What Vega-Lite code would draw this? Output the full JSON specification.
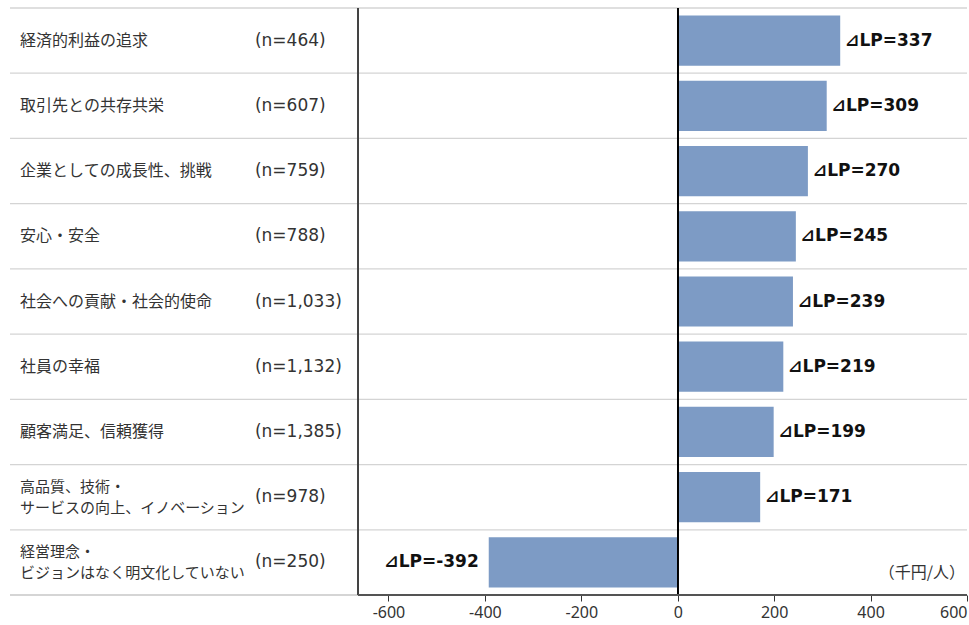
{
  "$schema": "https://vega.github.io/schema/vega-lite/v6.json",
  "width": 957,
  "height": 587,
  "autosize": {"type": "none"},
  "padding": {"left": 10, "top": 8, "right": 2, "bottom": 30},
  "background": "white",
  "config": {"view": {"stroke": null}, "font": "Noto Sans CJK JP"},
  "data": {
    "values": [
      {"cat": "経済的利益の追求", "n": "(n=464)", "v": 337},
      {"cat": "取引先との共存共栄", "n": "(n=607)", "v": 309},
      {"cat": "企業としての成長性、挑戦", "n": "(n=759)", "v": 270},
      {"cat": "安心・安全", "n": "(n=788)", "v": 245},
      {"cat": "社会への貢献・社会的使命", "n": "(n=1,033)", "v": 239},
      {"cat": "社員の幸福", "n": "(n=1,132)", "v": 219},
      {"cat": "顧客満足、信頼獲得", "n": "(n=1,385)", "v": 199},
      {"cat": "高品質、技術・\nサービスの向上、イノベーション", "n": "(n=978)", "v": 171},
      {"cat": "経営理念・\nビジョンはなく明文化していない", "n": "(n=250)", "v": -392}
    ]
  },
  "layer": [
    {
      "mark": {"type": "bar", "color": "#7d9bc5"},
      "encoding": {
        "y": {
          "field": "cat",
          "type": "nominal",
          "sort": null,
          "scale": {"paddingInner": 0.23, "paddingOuter": 0.115},
          "axis": null
        },
        "x": {
          "field": "v",
          "type": "quantitative",
          "scale": {"domain": [-1385, 600], "nice": false, "zero": false},
          "axis": {
            "title": null,
            "values": [-600, -400, -200, 0, 200, 400, 600],
            "labelExpr": "datum.value < 0 ? '-' + abs(datum.value) : '' + datum.value",
            "grid": false,
            "domain": false,
            "tickColor": "#333333",
            "tickSize": 6,
            "labelFontSize": 16,
            "labelColor": "#333333",
            "labelPadding": 3,
            "labelFont": "Noto Sans"
          }
        }
      }
    },
    {
      "mark": {"type": "rule", "color": "#d4d4d4", "strokeWidth": 1.3, "yOffset": -7.5},
      "encoding": {
        "y": {"field": "cat", "type": "nominal", "sort": null, "bandPosition": 0},
        "x": {"datum": -1385},
        "x2": {"datum": 600}
      }
    },
    {
      "mark": {"type": "rule", "color": "#d4d4d4", "strokeWidth": 1.3},
      "encoding": {"x": {"datum": -1385}, "x2": {"datum": 600}, "y": {"value": "height"}}
    },
    {
      "mark": {"type": "rule", "color": "#000000", "strokeWidth": 1.2},
      "encoding": {"x": {"datum": 0}}
    },
    {
      "mark": {"type": "rule", "color": "#444444", "strokeWidth": 1.2},
      "encoding": {"x": {"datum": -663}}
    },
    {
      "mark": {"type": "rule", "color": "#555555", "strokeWidth": 1.2},
      "encoding": {"x": {"datum": -663}, "x2": {"datum": 600}, "y": {"value": "height"}}
    },
    {
      "transform": [{"filter": "indexof(datum.cat, '\\n') < 0"}],
      "mark": {"type": "text", "align": "left", "baseline": "middle", "fontSize": 16, "color": "#333333"},
      "encoding": {"y": {"field": "cat", "type": "nominal", "sort": null}, "x": {"datum": -1364}, "text": {"field": "cat"}}
    },
    {
      "transform": [{"filter": "indexof(datum.cat, '\\n') >= 0"}],
      "mark": {"type": "text", "align": "left", "baseline": "middle", "fontSize": 15, "color": "#333333", "lineBreak": "\n", "lineHeight": 21, "dy": -10},
      "encoding": {"y": {"field": "cat", "type": "nominal", "sort": null}, "x": {"datum": -1364}, "text": {"field": "cat"}}
    },
    {
      "mark": {"type": "text", "align": "left", "baseline": "middle", "fontSize": 17, "color": "#333333", "font": "DejaVu Sans"},
      "encoding": {"y": {"field": "cat", "type": "nominal", "sort": null}, "x": {"datum": -877}, "text": {"field": "n"}}
    },
    {
      "transform": [{"filter": "datum.v > 0"}, {"calculate": "'⊿LP=' + datum.v", "as": "lab"}],
      "mark": {"type": "text", "align": "left", "baseline": "middle", "dx": 5, "fontSize": 17, "fontWeight": "bold", "color": "#111111", "font": "DejaVu Sans"},
      "encoding": {"y": {"field": "cat", "type": "nominal", "sort": null}, "x": {"field": "v", "type": "quantitative"}, "text": {"field": "lab"}}
    },
    {
      "transform": [{"filter": "datum.v < 0"}, {"calculate": "'⊿LP=' + datum.v", "as": "lab"}],
      "mark": {"type": "text", "align": "right", "baseline": "middle", "dx": -10, "fontSize": 17, "fontWeight": "bold", "color": "#111111", "font": "DejaVu Sans"},
      "encoding": {"y": {"field": "cat", "type": "nominal", "sort": null}, "x": {"field": "v", "type": "quantitative"}, "text": {"field": "lab"}}
    },
    {
      "transform": [{"filter": "datum.v < 0"}],
      "mark": {"type": "text", "align": "right", "baseline": "middle", "dx": -2, "dy": 11, "fontSize": 16, "color": "#333333", "text": "（千円/人）"},
      "encoding": {"y": {"field": "cat", "type": "nominal", "sort": null}, "x": {"datum": 600}}
    }
  ]
}
